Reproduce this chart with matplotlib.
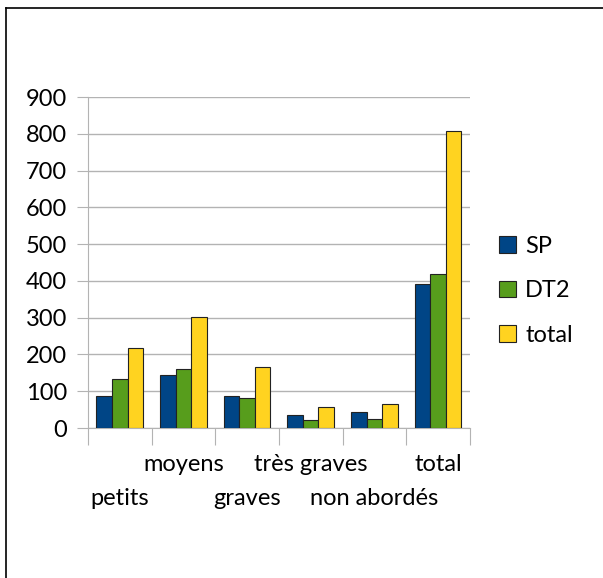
import numpy as np
import matplotlib
matplotlib.use('Agg')
import matplotlib.pyplot as plt
from matplotlib.lines import Line2D

plt.rcParams['font.family'] = ['Lato', 'DejaVu Sans']

# data per category
categories = ['petits', 'moyens', 'graves', 'très graves', 'non abordés', 'total']
sp = [86, 143, 88, 36, 43, 391]
dt2 = [133, 160, 82, 22, 24, 418]
total = [217, 302, 167, 57, 65, 808]

series = [('SP', sp, '#004586'), ('DT2', dt2, '#579d1c'), ('total', total, '#ffd320')]

fig = plt.figure(figsize=(6.03, 5.78), dpi=100)
ax = fig.add_axes([0.146, 0.2595, 0.633, 0.5725])

x = np.arange(len(categories))
w = 0.245
for i, (name, vals, col) in enumerate(series):
    ax.bar(x + (i - 1) * w, vals, w, color=col, edgecolor='#222222',
           linewidth=0.8, label=name, zorder=3)

ax.set_xlim(-0.5, len(categories) - 0.5)
ax.set_ylim(0, 900)
ax.set_yticks(np.arange(0, 901, 100))
ax.yaxis.grid(True, color='#b3b3b3', linewidth=1, zorder=0)

for s in ['top', 'right']:
    ax.spines[s].set_visible(False)
for s in ['left', 'bottom']:
    ax.spines[s].set_color('#b3b3b3')

ax.tick_params(axis='y', length=8, color='#b3b3b3', labelsize=17, pad=7)

# boundary ticks on x, labels placed by hand in two rows
ax.set_xticks(np.arange(-0.5, len(categories)), minor=False)
ax.set_xticklabels([])
ax.tick_params(axis='x', length=12, color='#b3b3b3')
for i, c in enumerate(categories):
    dy = -36 if i % 2 == 1 else -70
    ax.annotate(c, xy=(i, 0), xycoords=('data', 'axes fraction'),
                xytext=(0, dy), textcoords='offset pixels',
                ha='center', va='center', fontsize=17)

fig.legend(loc='center left', bbox_to_anchor=(0.812, 0.497), frameon=False,
           fontsize=17, handlelength=0.7, handleheight=0.7,
           handletextpad=0.4, labelspacing=1.0, borderaxespad=0)

# frame lines along top and left
fig.add_artist(Line2D([6 / 603, 1], [1 - 8 / 578, 1 - 8 / 578], color='black', linewidth=1.2))
fig.add_artist(Line2D([6 / 603, 6 / 603], [0, 1 - 8 / 578], color='black', linewidth=1.2))

plt.savefig('out.png', dpi=100)
